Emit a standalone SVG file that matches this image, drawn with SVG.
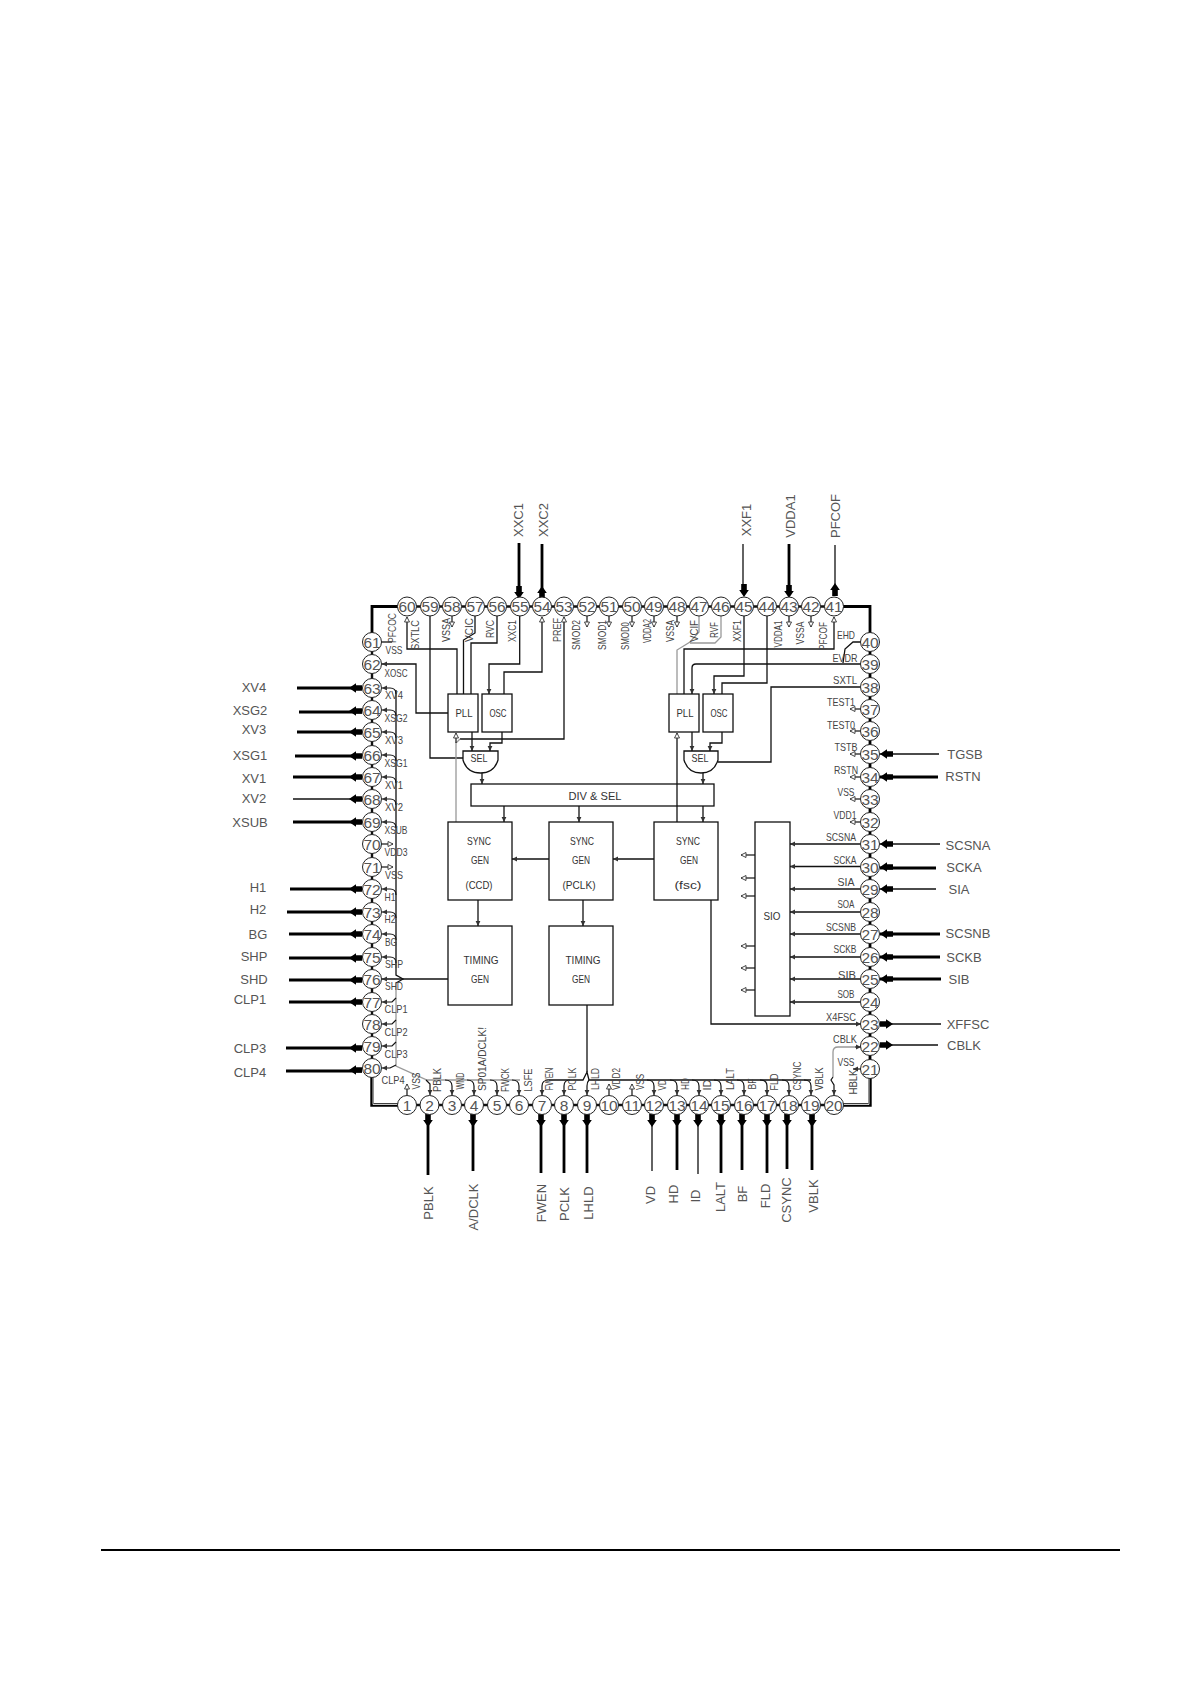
<svg xmlns="http://www.w3.org/2000/svg" width="1190" height="1684" viewBox="0 0 1190 1684">
<style>
text{font-family:"Liberation Sans",sans-serif;fill:#333;text-anchor:middle;dominant-baseline:central}
.n{font-size:15.500px;fill:#555}
.b{font-size:13px;fill:#555}
.m{font-size:11.500px;fill:#333}
.i{font-size:10.500px;fill:#444}
circle{fill:#fff;stroke:#222;stroke-width:1}
rect,.sel{fill:#fff;stroke:#111;stroke-width:1.300}
path{fill:none}
.l{stroke:#111;stroke-width:1.300}
.g{stroke:#999;stroke-width:1.300}
.t{stroke:#000;stroke-width:2.800}
.f{stroke:#111;stroke-width:1.200}
.a{marker-end:url(#big)}
.s{marker-end:url(#sm)}
.o{marker-end:url(#op)}
</style>
<defs>
<marker id="big" markerUnits="userSpaceOnUse" markerWidth="16" markerHeight="12" refX="13" refY="6" orient="auto"><path d="M0 3.200H6V1.200L13 6L6 10.800V8.800H0Z" style="fill:#000"/></marker>
<marker id="sm" markerUnits="userSpaceOnUse" markerWidth="6" markerHeight="6" refX="5" refY="3" orient="auto"><path d="M0 .6L5 3L0 5.400Z" style="fill:#333"/></marker>
<marker id="op" markerUnits="userSpaceOnUse" markerWidth="8" markerHeight="8" refX="6" refY="4" orient="auto"><path d="M1 1.500L6 4L1 6.500Z" style="fill:#fff;stroke:#333;stroke-width:.9"/></marker>
</defs>
<g id="connectors">
<path class="t" d="M372 642V606.500H407M834 606.500H870V1069"/>
<path style="stroke:#111;stroke-width:2.400" d="M407 606.500H834M372 642V1068M407 1105H834"/>
<path d="M372 1068V1105H407M870 1069V1105H834" style="stroke:#000;stroke-width:3.400"/>
<path d="M373 1069V1104.500H407M869 1069V1104.500H834" style="stroke:#fff;stroke-width:.8"/>
<path class="t" d="M519 543V590M542 544V598M789 544V590"/>
<path class="l" d="M743 544V590M835 545V596"/>
<path class="a" d="M519 586V599"/><path class="a" d="M542 598V586"/><path class="a" d="M744 584V597"/><path class="a" d="M789 585V598"/><path class="a" d="M835 596V583"/>
<path class="t" d="M297 688H362M299 712H362M297 732H362M295 756H362M293 777H362M293 822H362M290 889H362M287 912H362M289 934H362M289 958H362M289 980H362M289 1002H362M286 1048H362M286 1071H362"/>
<path class="l" d="M293 799H362"/>
<path class="a" d="M362 688H349"/><path class="a" d="M362 711H349"/><path class="a" d="M362 732H349"/><path class="a" d="M362 756H349"/><path class="a" d="M362 777H349"/><path class="a" d="M362 799H349"/><path class="a" d="M362 822H349"/><path class="a" d="M362 889H349"/><path class="a" d="M362 912H349"/><path class="a" d="M362 934H349"/><path class="a" d="M362 958H349"/><path class="a" d="M362 980H349"/><path class="a" d="M362 1002H349"/><path class="a" d="M362 1048H349"/><path class="a" d="M362 1070H349"/>
<path class="t" d="M428 1114V1175M473 1114V1171M541 1114V1173M564 1114V1173M587 1114V1173M677 1114V1170M721 1114V1173M742 1114V1170M767 1114V1173M787 1114V1169M812 1114V1170"/>
<path class="l" d="M652 1114V1171M698 1114V1174"/>
<path class="a" d="M428 1114V1127"/><path class="a" d="M473 1114V1127"/><path class="a" d="M541 1114V1127"/><path class="a" d="M564 1114V1127"/><path class="a" d="M587 1114V1127"/><path class="a" d="M652 1114V1127"/><path class="a" d="M677 1114V1127"/><path class="a" d="M698 1114V1127"/><path class="a" d="M721 1114V1127"/><path class="a" d="M742 1114V1127"/><path class="a" d="M767 1114V1127"/><path class="a" d="M787 1114V1127"/><path class="a" d="M812 1114V1127"/>
<path class="l" d="M939 754H880M940 844H880M936 889H880M941 1024H880M938 1045H880"/>
<path class="t" d="M938 777H880M936 868H880M940 934H880M940 957H880M941 979H880"/>
<path class="a" d="M893 754H880"/><path class="a" d="M893 777H880"/><path class="a" d="M893 844H880"/><path class="a" d="M893 867H880"/><path class="a" d="M893 889H880"/><path class="a" d="M893 934H880"/><path class="a" d="M893 957H880"/><path class="a" d="M893 979H880"/><path class="a" d="M880 1024H893"/><path class="a" d="M880 1045H893"/>
<path class="f o" d="M452 616V627"/><path class="f o" d="M587 616V627"/><path class="f o" d="M609 616V627"/><path class="f o" d="M632 616V627"/><path class="f o" d="M654 616V627"/><path class="f o" d="M677 616V627"/><path class="f o" d="M789 616V627"/><path class="f o" d="M811 616V627"/>
<path class="l" d="M381 642H392"/>
<path class="l o" d="M457 694V649H407V617"/>
<path class="l" d="M430 616V758H463"/>
<path class="l" d="M475 616V633L463.500 640V694"/>
<path class="l" d="M497 616V643H471V694"/>
<path class="l s" d="M519.700 616V664H489V694"/>
<path class="l o" d="M504 694V672H542V617"/>
<path class="l o" d="M460 739H564V617"/>
<path class="g" d="M456 822V743L460 739"/>
<path class="f o" d="M456 743V733"/>
<path class="l s" d="M472 732V751"/>
<path class="l s" d="M502 732V743H490V751"/>
<path class="l s" d="M482 773V784"/>
<path class="l s" d="M448 713H416V664H382"/>
<path class="g" d="M699 616V632L690 642L677 650V694M721 616V637L715 643H690"/>
<path class="l o" d="M684 694V649H834V617"/>
<path class="l" d="M861 642H853L845 649L843 663"/>
<path class="l s" d="M861 664H696Q692 664 692 668V694"/>
<path class="l s" d="M744 616V676H714V694"/>
<path class="l" d="M767 616V683H722V694"/>
<path class="l" d="M860 687H771V762H718"/>
<path class="l s" d="M692 732V751"/>
<path class="l s" d="M722 732V743H710V751"/>
<path class="l o" d="M677 822V733"/>
<path class="l s" d="M703 773V784"/>
<path class="l s" d="M504 806V822"/><path class="l s" d="M579 806V822"/><path class="l s" d="M703 806V822"/>
<path class="l s" d="M654 859H613"/><path class="l s" d="M549 859H512"/>
<path class="l s" d="M478 900V926"/><path class="l s" d="M583 900V926"/>
<path class="l s" d="M448 979H382"/>
<path class="l s" d="M711 900V1024H861"/>
<path class="l" d="M587 1005V1072"/>
<path class="l s" d="M860 844H790"/><path class="l s" d="M860 866.500H790"/><path class="l s" d="M860 889H790"/><path class="l s" d="M860 912H790"/><path class="l s" d="M860 934H790"/><path class="l s" d="M860 957H790"/><path class="l s" d="M860 979H790"/><path class="l s" d="M860 1002H790"/>
<path class="f o" d="M755 855H741"/><path class="f o" d="M755 878H741"/><path class="f o" d="M755 896H741"/><path class="f o" d="M755 946H741"/><path class="f o" d="M755 968H741"/><path class="f o" d="M755 990H741"/>
<path class="f o" d="M860 709H850"/><path class="f o" d="M860 731H850"/><path class="f o" d="M860 754H850"/><path class="f o" d="M860 777H850"/><path class="f o" d="M860 799H850"/><path class="f o" d="M860 822H850"/>
<path class="f s" d="M861 1069H853"/>
<path class="g" d="M833 1077V1052Q833 1047 838 1047H855"/>
<path class="f s" d="M855 1047H861"/>
<path class="f s" d="M833 1077L831 1080L834 1085V1095"/>
<path class="l" d="M396 690V975L403 979L396 983"/>
<path class="g" d="M396 983V1066L427 1080H520"/>
<path class="f s" d="M396 694Q396 688 390 688H382"/><path class="f s" d="M396 716Q396 710 390 710H382"/><path class="f s" d="M396 738Q396 732 390 732H382"/><path class="f s" d="M396 761Q396 755 390 755H382"/><path class="f s" d="M396 783Q396 777 390 777H382"/><path class="f s" d="M396 805Q396 799 390 799H382"/><path class="f s" d="M396 828Q396 822 390 822H382"/>
<path class="f s" d="M396 895Q396 889 390 889H382"/><path class="f s" d="M396 918Q396 912 390 912H382"/><path class="f s" d="M396 940Q396 934 390 934H382"/><path class="f s" d="M396 963Q396 957 390 957H382"/>
<path class="f s" d="M396 998L392 1002H382"/><path class="f s" d="M396 1020L392 1024H382"/><path class="f s" d="M396 1042L392 1046H382"/><path class="f s" d="M396 1065L390 1068H382"/>
<path class="f o" d="M381 844H393"/><path class="f o" d="M381 867H393"/>
<path class="f s" d="M426 1080L430 1084V1095"/><path class="f s" d="M445 1080Q452 1080 452 1086V1095"/><path class="f s" d="M467 1080Q474 1080 474 1086V1095"/><path class="f s" d="M490 1080Q497 1080 497 1086V1095"/><path class="f s" d="M512 1080Q519 1080 519 1086V1095"/>
<path class="l" d="M549 1080H583L587 1072L589 1080H811"/>
<path class="f s" d="M549 1080Q542 1080 542 1086V1095"/><path class="f s" d="M570 1080Q564 1080 564 1086V1095"/><path class="f s" d="M589 1080Q587 1082 587 1086V1095"/>
<path class="f s" d="M647 1080Q654 1080 654 1086V1095"/><path class="f s" d="M670 1080Q677 1080 677 1086V1095"/><path class="f s" d="M692 1080Q699 1080 699 1086V1095"/><path class="f s" d="M714 1080Q721 1080 721 1086V1095"/><path class="f s" d="M737 1080Q744 1080 744 1086V1095"/><path class="f s" d="M760 1080Q767 1080 767 1086V1095"/><path class="f s" d="M782 1080Q789 1080 789 1086V1095"/><path class="f s" d="M804 1080Q811 1080 811 1086V1095"/>
<path class="f o" d="M407 1095V1084"/><path class="f o" d="M609 1095V1084"/><path class="f o" d="M632 1095V1084"/>
</g>
<g id="block-pll-c"><rect x="448" y="694" width="30" height="38"/><text class="m" x="464" y="713" textLength="17" lengthAdjust="spacingAndGlyphs">PLL</text></g>
<g id="block-osc-c"><rect x="482" y="694" width="30" height="38"/><text class="m" x="498" y="713" textLength="17" lengthAdjust="spacingAndGlyphs">OSC</text></g>
<g id="block-sel-c"><path class="sel" d="M463 751H498V760Q494 773 480.500 773Q467 773 463 760Z"/><text class="m" x="479" y="758" textLength="17" lengthAdjust="spacingAndGlyphs">SEL</text></g>
<g id="block-pll-f"><rect x="669" y="694" width="30" height="38"/><text class="m" x="685" y="713" textLength="17" lengthAdjust="spacingAndGlyphs">PLL</text></g>
<g id="block-osc-f"><rect x="703" y="694" width="30" height="38"/><text class="m" x="719" y="713" textLength="17" lengthAdjust="spacingAndGlyphs">OSC</text></g>
<g id="block-sel-f"><path class="sel" d="M684 751H718V760Q714 773 701 773Q688 773 684 760Z"/><text class="m" x="700" y="758" textLength="17" lengthAdjust="spacingAndGlyphs">SEL</text></g>
<g id="block-div"><rect x="471" y="784" width="243" height="22"/><text class="m" x="595" y="796" textLength="53" lengthAdjust="spacingAndGlyphs">DIV &amp; SEL</text></g>
<path class="l" d="M677 784V806"/>
<g id="block-sync-ccd"><rect x="448" y="822" width="64" height="78"/><text class="m" x="479" y="841" textLength="24" lengthAdjust="spacingAndGlyphs">SYNC</text><text class="m" x="480" y="860" textLength="18" lengthAdjust="spacingAndGlyphs">GEN</text><text class="m" x="479" y="885" textLength="27" lengthAdjust="spacingAndGlyphs">(CCD)</text></g>
<g id="block-sync-pclk"><rect x="549" y="822" width="64" height="78"/><text class="m" x="582" y="841" textLength="24" lengthAdjust="spacingAndGlyphs">SYNC</text><text class="m" x="581" y="860" textLength="18" lengthAdjust="spacingAndGlyphs">GEN</text><text class="m" x="579" y="885" textLength="33" lengthAdjust="spacingAndGlyphs">(PCLK)</text></g>
<g id="block-sync-fsc"><rect x="654" y="822" width="64" height="78"/><text class="m" x="688" y="841" textLength="24" lengthAdjust="spacingAndGlyphs">SYNC</text><text class="m" x="689" y="860" textLength="18" lengthAdjust="spacingAndGlyphs">GEN</text><text class="m" x="688" y="885" textLength="27" lengthAdjust="spacingAndGlyphs">(fsc)</text></g>
<g id="block-timing-ccd"><rect x="448" y="926" width="64" height="79"/><text class="m" x="481" y="960" textLength="35" lengthAdjust="spacingAndGlyphs">TIMING</text><text class="m" x="480" y="979" textLength="18" lengthAdjust="spacingAndGlyphs">GEN</text></g>
<g id="block-timing-pclk"><rect x="549" y="926" width="64" height="79"/><text class="m" x="583" y="960" textLength="35" lengthAdjust="spacingAndGlyphs">TIMING</text><text class="m" x="581" y="979" textLength="18" lengthAdjust="spacingAndGlyphs">GEN</text></g>
<g id="block-sio"><rect x="755" y="822" width="35" height="194"/><text class="m" x="772" y="916" textLength="17" lengthAdjust="spacingAndGlyphs">SIO</text></g>
<g id="pins">
<g id="pin1"><circle cx="407" cy="1105" r="9.500"/><text class="n" x="407" y="1105">1</text></g>
<g id="pin2"><circle cx="429.500" cy="1105" r="9.500"/><text class="n" x="429.500" y="1105">2</text></g>
<g id="pin3"><circle cx="452" cy="1105" r="9.500"/><text class="n" x="452" y="1105">3</text></g>
<g id="pin4"><circle cx="474" cy="1105" r="9.500"/><text class="n" x="474" y="1105">4</text></g>
<g id="pin5"><circle cx="497" cy="1105" r="9.500"/><text class="n" x="497" y="1105">5</text></g>
<g id="pin6"><circle cx="519" cy="1105" r="9.500"/><text class="n" x="519" y="1105">6</text></g>
<g id="pin7"><circle cx="542" cy="1105" r="9.500"/><text class="n" x="542" y="1105">7</text></g>
<g id="pin8"><circle cx="564" cy="1105" r="9.500"/><text class="n" x="564" y="1105">8</text></g>
<g id="pin9"><circle cx="587" cy="1105" r="9.500"/><text class="n" x="587" y="1105">9</text></g>
<g id="pin10"><circle cx="609" cy="1105" r="9.500"/><text class="n" x="609" y="1105">10</text></g>
<g id="pin11"><circle cx="632" cy="1105" r="9.500"/><text class="n" x="632" y="1105">11</text></g>
<g id="pin12"><circle cx="654" cy="1105" r="9.500"/><text class="n" x="654" y="1105">12</text></g>
<g id="pin13"><circle cx="677" cy="1105" r="9.500"/><text class="n" x="677" y="1105">13</text></g>
<g id="pin14"><circle cx="699" cy="1105" r="9.500"/><text class="n" x="699" y="1105">14</text></g>
<g id="pin15"><circle cx="721" cy="1105" r="9.500"/><text class="n" x="721" y="1105">15</text></g>
<g id="pin16"><circle cx="744" cy="1105" r="9.500"/><text class="n" x="744" y="1105">16</text></g>
<g id="pin17"><circle cx="767" cy="1105" r="9.500"/><text class="n" x="767" y="1105">17</text></g>
<g id="pin18"><circle cx="789" cy="1105" r="9.500"/><text class="n" x="789" y="1105">18</text></g>
<g id="pin19"><circle cx="811" cy="1105" r="9.500"/><text class="n" x="811" y="1105">19</text></g>
<g id="pin20"><circle cx="834" cy="1105" r="9.500"/><text class="n" x="834" y="1105">20</text></g>
<g id="pin21"><circle cx="870" cy="1069" r="9.500"/><text class="n" x="870" y="1069">21</text></g>
<g id="pin22"><circle cx="870" cy="1046" r="9.500"/><text class="n" x="870" y="1046">22</text></g>
<g id="pin23"><circle cx="870" cy="1024" r="9.500"/><text class="n" x="870" y="1024">23</text></g>
<g id="pin24"><circle cx="870" cy="1002" r="9.500"/><text class="n" x="870" y="1002">24</text></g>
<g id="pin25"><circle cx="870" cy="979" r="9.500"/><text class="n" x="870" y="979">25</text></g>
<g id="pin26"><circle cx="870" cy="957" r="9.500"/><text class="n" x="870" y="957">26</text></g>
<g id="pin27"><circle cx="870" cy="934" r="9.500"/><text class="n" x="870" y="934">27</text></g>
<g id="pin28"><circle cx="870" cy="912" r="9.500"/><text class="n" x="870" y="912">28</text></g>
<g id="pin29"><circle cx="870" cy="889" r="9.500"/><text class="n" x="870" y="889">29</text></g>
<g id="pin30"><circle cx="870" cy="867" r="9.500"/><text class="n" x="870" y="867">30</text></g>
<g id="pin31"><circle cx="870" cy="844" r="9.500"/><text class="n" x="870" y="844">31</text></g>
<g id="pin32"><circle cx="870" cy="822" r="9.500"/><text class="n" x="870" y="822">32</text></g>
<g id="pin33"><circle cx="870" cy="799" r="9.500"/><text class="n" x="870" y="799">33</text></g>
<g id="pin34"><circle cx="870" cy="777" r="9.500"/><text class="n" x="870" y="777">34</text></g>
<g id="pin35"><circle cx="870" cy="754" r="9.500"/><text class="n" x="870" y="754">35</text></g>
<g id="pin36"><circle cx="870" cy="731" r="9.500"/><text class="n" x="870" y="731">36</text></g>
<g id="pin37"><circle cx="870" cy="709" r="9.500"/><text class="n" x="870" y="709">37</text></g>
<g id="pin38"><circle cx="870" cy="687" r="9.500"/><text class="n" x="870" y="687">38</text></g>
<g id="pin39"><circle cx="870" cy="664" r="9.500"/><text class="n" x="870" y="664">39</text></g>
<g id="pin40"><circle cx="870" cy="642" r="9.500"/><text class="n" x="870" y="642">40</text></g>
<g id="pin41"><circle cx="834" cy="606.500" r="9.500"/><text class="n" x="834" y="606.500">41</text></g>
<g id="pin42"><circle cx="811" cy="606.500" r="9.500"/><text class="n" x="811" y="606.500">42</text></g>
<g id="pin43"><circle cx="789" cy="606.500" r="9.500"/><text class="n" x="789" y="606.500">43</text></g>
<g id="pin44"><circle cx="767" cy="606.500" r="9.500"/><text class="n" x="767" y="606.500">44</text></g>
<g id="pin45"><circle cx="744" cy="606.500" r="9.500"/><text class="n" x="744" y="606.500">45</text></g>
<g id="pin46"><circle cx="721" cy="606.500" r="9.500"/><text class="n" x="721" y="606.500">46</text></g>
<g id="pin47"><circle cx="699" cy="606.500" r="9.500"/><text class="n" x="699" y="606.500">47</text></g>
<g id="pin48"><circle cx="677" cy="606.500" r="9.500"/><text class="n" x="677" y="606.500">48</text></g>
<g id="pin49"><circle cx="654" cy="606.500" r="9.500"/><text class="n" x="654" y="606.500">49</text></g>
<g id="pin50"><circle cx="632" cy="606.500" r="9.500"/><text class="n" x="632" y="606.500">50</text></g>
<g id="pin51"><circle cx="609" cy="606.500" r="9.500"/><text class="n" x="609" y="606.500">51</text></g>
<g id="pin52"><circle cx="587" cy="606.500" r="9.500"/><text class="n" x="587" y="606.500">52</text></g>
<g id="pin53"><circle cx="564" cy="606.500" r="9.500"/><text class="n" x="564" y="606.500">53</text></g>
<g id="pin54"><circle cx="542" cy="606.500" r="9.500"/><text class="n" x="542" y="606.500">54</text></g>
<g id="pin55"><circle cx="520" cy="606.500" r="9.500"/><text class="n" x="520" y="606.500">55</text></g>
<g id="pin56"><circle cx="497" cy="606.500" r="9.500"/><text class="n" x="497" y="606.500">56</text></g>
<g id="pin57"><circle cx="475" cy="606.500" r="9.500"/><text class="n" x="475" y="606.500">57</text></g>
<g id="pin58"><circle cx="452" cy="606.500" r="9.500"/><text class="n" x="452" y="606.500">58</text></g>
<g id="pin59"><circle cx="430" cy="606.500" r="9.500"/><text class="n" x="430" y="606.500">59</text></g>
<g id="pin60"><circle cx="407" cy="606.500" r="9.500"/><text class="n" x="407" y="606.500">60</text></g>
<g id="pin61"><circle cx="372" cy="642" r="9.500"/><text class="n" x="372" y="642">61</text></g>
<g id="pin62"><circle cx="372" cy="664" r="9.500"/><text class="n" x="372" y="664">62</text></g>
<g id="pin63"><circle cx="372" cy="688" r="9.500"/><text class="n" x="372" y="688">63</text></g>
<g id="pin64"><circle cx="372" cy="710" r="9.500"/><text class="n" x="372" y="710">64</text></g>
<g id="pin65"><circle cx="372" cy="732" r="9.500"/><text class="n" x="372" y="732">65</text></g>
<g id="pin66"><circle cx="372" cy="755" r="9.500"/><text class="n" x="372" y="755">66</text></g>
<g id="pin67"><circle cx="372" cy="777" r="9.500"/><text class="n" x="372" y="777">67</text></g>
<g id="pin68"><circle cx="372" cy="799" r="9.500"/><text class="n" x="372" y="799">68</text></g>
<g id="pin69"><circle cx="372" cy="822" r="9.500"/><text class="n" x="372" y="822">69</text></g>
<g id="pin70"><circle cx="372" cy="844" r="9.500"/><text class="n" x="372" y="844">70</text></g>
<g id="pin71"><circle cx="372" cy="867" r="9.500"/><text class="n" x="372" y="867">71</text></g>
<g id="pin72"><circle cx="372" cy="889" r="9.500"/><text class="n" x="372" y="889">72</text></g>
<g id="pin73"><circle cx="372" cy="912" r="9.500"/><text class="n" x="372" y="912">73</text></g>
<g id="pin74"><circle cx="372" cy="934" r="9.500"/><text class="n" x="372" y="934">74</text></g>
<g id="pin75"><circle cx="372" cy="957" r="9.500"/><text class="n" x="372" y="957">75</text></g>
<g id="pin76"><circle cx="372" cy="979" r="9.500"/><text class="n" x="372" y="979">76</text></g>
<g id="pin77"><circle cx="372" cy="1002" r="9.500"/><text class="n" x="372" y="1002">77</text></g>
<g id="pin78"><circle cx="372" cy="1024" r="9.500"/><text class="n" x="372" y="1024">78</text></g>
<g id="pin79"><circle cx="372" cy="1046" r="9.500"/><text class="n" x="372" y="1046">79</text></g>
<g id="pin80"><circle cx="372" cy="1068" r="9.500"/><text class="n" x="372" y="1068">80</text></g>
</g>
<g id="signal-labels">
<text class="b" transform="rotate(-90 518 520)" x="518" y="520">XXC1</text>
<text class="b" transform="rotate(-90 543 520)" x="543" y="520">XXC2</text>
<text class="b" transform="rotate(-90 746 520)" x="746" y="520">XXF1</text>
<text class="b" transform="rotate(-90 790 516)" x="790" y="516">VDDA1</text>
<text class="b" transform="rotate(-90 835 516)" x="835" y="516">PFCOF</text>
<text class="b" x="254" y="687">XV4</text><text class="b" x="250" y="710">XSG2</text><text class="b" x="254" y="729">XV3</text><text class="b" x="250" y="755">XSG1</text><text class="b" x="254" y="778">XV1</text><text class="b" x="254" y="798">XV2</text><text class="b" x="250" y="822">XSUB</text>
<text class="b" x="258" y="887">H1</text><text class="b" x="258" y="909">H2</text><text class="b" x="258" y="934">BG</text><text class="b" x="254" y="956">SHP</text><text class="b" x="254" y="979">SHD</text><text class="b" x="250" y="999">CLP1</text><text class="b" x="250" y="1048">CLP3</text><text class="b" x="250" y="1072">CLP4</text>
<text class="b" x="965" y="754">TGSB</text><text class="b" x="963" y="776">RSTN</text><text class="b" x="968" y="845">SCSNA</text><text class="b" x="964" y="867">SCKA</text><text class="b" x="959" y="889">SIA</text><text class="b" x="968" y="933">SCSNB</text><text class="b" x="964" y="957">SCKB</text><text class="b" x="959" y="979">SIB</text><text class="b" x="968" y="1024">XFFSC</text><text class="b" x="964" y="1045">CBLK</text>
<text class="b" transform="rotate(-90 428 1203)" x="428" y="1203">PBLK</text>
<text class="b" transform="rotate(-90 473 1207)" x="473" y="1207">A/DCLK</text>
<text class="b" transform="rotate(-90 541 1203)" x="541" y="1203">FWEN</text>
<text class="b" transform="rotate(-90 564 1204)" x="564" y="1204">PCLK</text>
<text class="b" transform="rotate(-90 588 1203)" x="588" y="1203">LHLD</text>
<text class="b" transform="rotate(-90 650 1195)" x="650" y="1195">VD</text>
<text class="b" transform="rotate(-90 673 1194)" x="673" y="1194">HD</text>
<text class="b" transform="rotate(-90 695 1196)" x="695" y="1196">ID</text>
<text class="b" transform="rotate(-90 720 1197)" x="720" y="1197">LALT</text>
<text class="b" transform="rotate(-90 742 1194)" x="742" y="1194">BF</text>
<text class="b" transform="rotate(-90 765 1196)" x="765" y="1196">FLD</text>
<text class="b" transform="rotate(-90 786 1200)" x="786" y="1200">CSYNC</text>
<text class="b" transform="rotate(-90 813 1196)" x="813" y="1196">VBLK</text>
</g>
<g id="pin-labels">
<text class="i" transform="rotate(-90 392 628)" x="392" y="628" textLength="30" lengthAdjust="spacingAndGlyphs">PFCOC</text>
<text class="i" transform="rotate(-90 415 635)" x="415" y="635" textLength="30" lengthAdjust="spacingAndGlyphs">SXTLC</text>
<text class="i" transform="rotate(-90 446 630)" x="446" y="630" textLength="24" lengthAdjust="spacingAndGlyphs">VSSA</text>
<text class="i" transform="rotate(-90 469 630)" x="469" y="630" textLength="24" lengthAdjust="spacingAndGlyphs">VCIC</text>
<text class="i" transform="rotate(-90 490 629)" x="490" y="629" textLength="18" lengthAdjust="spacingAndGlyphs">RVC</text>
<text class="i" transform="rotate(-90 512 631)" x="512" y="631" textLength="22" lengthAdjust="spacingAndGlyphs">XXC1</text>
<text class="i" transform="rotate(-90 557 630)" x="557" y="630" textLength="24" lengthAdjust="spacingAndGlyphs">PREF</text>
<text class="i" transform="rotate(-90 576 635)" x="576" y="635" textLength="30" lengthAdjust="spacingAndGlyphs">SMOD2</text>
<text class="i" transform="rotate(-90 602 635)" x="602" y="635" textLength="30" lengthAdjust="spacingAndGlyphs">SMOD1</text>
<text class="i" transform="rotate(-90 625 636)" x="625" y="636" textLength="28" lengthAdjust="spacingAndGlyphs">SMOD0</text>
<text class="i" transform="rotate(-90 647 631)" x="647" y="631" textLength="24" lengthAdjust="spacingAndGlyphs">VDDA2</text>
<text class="i" transform="rotate(-90 670 631)" x="670" y="631" textLength="22" lengthAdjust="spacingAndGlyphs">VSSA</text>
<text class="i" transform="rotate(-90 694 631)" x="694" y="631" textLength="22" lengthAdjust="spacingAndGlyphs">VCIF</text>
<text class="i" transform="rotate(-90 714 630)" x="714" y="630" textLength="16" lengthAdjust="spacingAndGlyphs">RVF</text>
<text class="i" transform="rotate(-90 737 631)" x="737" y="631" textLength="22" lengthAdjust="spacingAndGlyphs">XXF1</text>
<text class="i" transform="rotate(-90 778 634)" x="778" y="634" textLength="27" lengthAdjust="spacingAndGlyphs">VDDA1</text>
<text class="i" transform="rotate(-90 800 633)" x="800" y="633" textLength="23" lengthAdjust="spacingAndGlyphs">VSSA</text>
<text class="i" transform="rotate(-90 823 636)" x="823" y="636" textLength="28" lengthAdjust="spacingAndGlyphs">PFCOF</text>
<text class="i" x="394" y="650" textLength="17" lengthAdjust="spacingAndGlyphs">VSS</text><text class="i" x="396" y="673" textLength="23" lengthAdjust="spacingAndGlyphs">XOSC</text><text class="i" x="394" y="695" textLength="18" lengthAdjust="spacingAndGlyphs">XV4</text><text class="i" x="396" y="718" textLength="23" lengthAdjust="spacingAndGlyphs">XSG2</text><text class="i" x="394" y="740" textLength="18" lengthAdjust="spacingAndGlyphs">XV3</text><text class="i" x="396" y="763" textLength="23" lengthAdjust="spacingAndGlyphs">XSG1</text><text class="i" x="394" y="785" textLength="18" lengthAdjust="spacingAndGlyphs">XV1</text><text class="i" x="394" y="807" textLength="18" lengthAdjust="spacingAndGlyphs">XV2</text><text class="i" x="396" y="830" textLength="23" lengthAdjust="spacingAndGlyphs">XSUB</text><text class="i" x="396" y="852" textLength="23" lengthAdjust="spacingAndGlyphs">VDD3</text><text class="i" x="394" y="875" textLength="18" lengthAdjust="spacingAndGlyphs">VSS</text><text class="i" x="390" y="897" textLength="11" lengthAdjust="spacingAndGlyphs">H1</text><text class="i" x="390" y="919" textLength="11" lengthAdjust="spacingAndGlyphs">H2</text><text class="i" x="391" y="942" textLength="12" lengthAdjust="spacingAndGlyphs">BG</text><text class="i" x="394" y="964" textLength="18" lengthAdjust="spacingAndGlyphs">SHP</text><text class="i" x="394" y="986" textLength="18" lengthAdjust="spacingAndGlyphs">SHD</text><text class="i" x="396" y="1009" textLength="23" lengthAdjust="spacingAndGlyphs">CLP1</text><text class="i" x="396" y="1032" textLength="23" lengthAdjust="spacingAndGlyphs">CLP2</text><text class="i" x="396" y="1054" textLength="23" lengthAdjust="spacingAndGlyphs">CLP3</text><text class="i" x="393" y="1080" textLength="23" lengthAdjust="spacingAndGlyphs">CLP4</text>
<text class="i" x="846" y="635" textLength="18" lengthAdjust="spacingAndGlyphs">EHD</text><text class="i" x="845" y="658" textLength="25" lengthAdjust="spacingAndGlyphs">EVDR</text><text class="i" x="845" y="680" textLength="24" lengthAdjust="spacingAndGlyphs">SXTL</text><text class="i" x="841" y="702" textLength="28" lengthAdjust="spacingAndGlyphs">TEST1</text><text class="i" x="841" y="725" textLength="28" lengthAdjust="spacingAndGlyphs">TEST0</text><text class="i" x="846" y="747" textLength="23" lengthAdjust="spacingAndGlyphs">TSTB</text><text class="i" x="846" y="770" textLength="24" lengthAdjust="spacingAndGlyphs">RSTN</text><text class="i" x="846" y="792" textLength="17" lengthAdjust="spacingAndGlyphs">VSS</text><text class="i" x="845" y="815" textLength="23" lengthAdjust="spacingAndGlyphs">VDD1</text><text class="i" x="841" y="837" textLength="30" lengthAdjust="spacingAndGlyphs">SCSNA</text><text class="i" x="845" y="860" textLength="23" lengthAdjust="spacingAndGlyphs">SCKA</text><text class="i" x="846" y="882" textLength="17" lengthAdjust="spacingAndGlyphs">SIA</text><text class="i" x="846" y="904" textLength="17" lengthAdjust="spacingAndGlyphs">SOA</text><text class="i" x="841" y="927" textLength="30" lengthAdjust="spacingAndGlyphs">SCSNB</text><text class="i" x="845" y="949" textLength="23" lengthAdjust="spacingAndGlyphs">SCKB</text><text class="i" x="847" y="975" textLength="18" lengthAdjust="spacingAndGlyphs">SIB</text><text class="i" x="846" y="994" textLength="17" lengthAdjust="spacingAndGlyphs">SOB</text><text class="i" x="841" y="1017" textLength="30" lengthAdjust="spacingAndGlyphs">X4FSC</text><text class="i" x="845" y="1039" textLength="24" lengthAdjust="spacingAndGlyphs">CBLK</text><text class="i" x="846" y="1062" textLength="17" lengthAdjust="spacingAndGlyphs">VSS</text>
<text class="i" transform="rotate(-90 853 1082)" x="853" y="1082" textLength="25" lengthAdjust="spacingAndGlyphs">HBLK</text>
<text class="i" transform="rotate(-90 416 1081)" x="416" y="1081" textLength="17" lengthAdjust="spacingAndGlyphs">VSS</text>
<text class="i" transform="rotate(-90 437 1080)" x="437" y="1080" textLength="24" lengthAdjust="spacingAndGlyphs">PBLK</text>
<text class="i" transform="rotate(-90 460 1081)" x="460" y="1081" textLength="17" lengthAdjust="spacingAndGlyphs">WND</text>
<text class="i" transform="rotate(-90 482 1059)" x="482" y="1059" textLength="64" lengthAdjust="spacingAndGlyphs">SP01A/DCLK!</text>
<text class="i" transform="rotate(-90 505 1080)" x="505" y="1080" textLength="24" lengthAdjust="spacingAndGlyphs">FWCK</text>
<text class="i" transform="rotate(-90 528 1080)" x="528" y="1080" textLength="23" lengthAdjust="spacingAndGlyphs">LSFE</text>
<text class="i" transform="rotate(-90 549 1079)" x="549" y="1079" textLength="23" lengthAdjust="spacingAndGlyphs">FWEN</text>
<text class="i" transform="rotate(-90 572 1079)" x="572" y="1079" textLength="23" lengthAdjust="spacingAndGlyphs">PCLK</text>
<text class="i" transform="rotate(-90 595 1079)" x="595" y="1079" textLength="22" lengthAdjust="spacingAndGlyphs">LHLD</text>
<text class="i" transform="rotate(-90 616 1079)" x="616" y="1079" textLength="22" lengthAdjust="spacingAndGlyphs">VDD2</text>
<text class="i" transform="rotate(-90 640 1082)" x="640" y="1082" textLength="16" lengthAdjust="spacingAndGlyphs">VSS</text>
<text class="i" transform="rotate(-90 662 1085)" x="662" y="1085" textLength="11" lengthAdjust="spacingAndGlyphs">VD</text>
<text class="i" transform="rotate(-90 685 1084)" x="685" y="1084" textLength="12" lengthAdjust="spacingAndGlyphs">HD</text>
<text class="i" transform="rotate(-90 707 1085)" x="707" y="1085" textLength="11" lengthAdjust="spacingAndGlyphs">ID</text>
<text class="i" transform="rotate(-90 730 1079)" x="730" y="1079" textLength="22" lengthAdjust="spacingAndGlyphs">LALT</text>
<text class="i" transform="rotate(-90 752 1084)" x="752" y="1084" textLength="11" lengthAdjust="spacingAndGlyphs">BF</text>
<text class="i" transform="rotate(-90 774 1082)" x="774" y="1082" textLength="17" lengthAdjust="spacingAndGlyphs">FLD</text>
<text class="i" transform="rotate(-90 797 1076)" x="797" y="1076" textLength="29" lengthAdjust="spacingAndGlyphs">CSYNC</text>
<text class="i" transform="rotate(-90 819 1079)" x="819" y="1079" textLength="23" lengthAdjust="spacingAndGlyphs">VBLK</text>
</g>
<path id="footer-rule" d="M101 1550H1120" style="stroke:#000;stroke-width:2"/>
</svg>
